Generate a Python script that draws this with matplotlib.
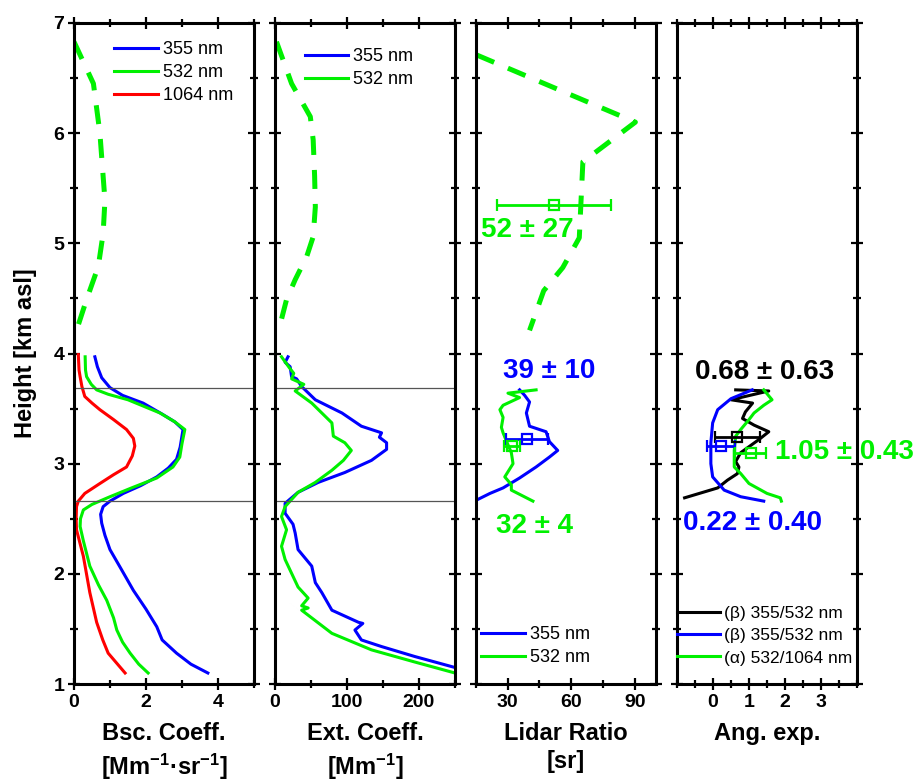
import matplotlib
matplotlib.use("Agg")
import matplotlib.pyplot as plt
from matplotlib.ticker import MultipleLocator, FixedLocator

plt.rcParams['font.family'] = ['Liberation Sans', 'DejaVu Sans']
plt.rcParams['mathtext.fontset'] = 'custom'
plt.rcParams['mathtext.rm'] = 'Liberation Sans:bold'
plt.rcParams['mathtext.default'] = 'rm'

BLUE = '#0000ff'
GREEN = '#00f000'
RED = '#ff0000'

# ---------------- data ----------------
# Backscatter coefficient [Mm-1 sr-1]
bsc532_dash_h = [6.83, 6.45, 6.00, 5.39, 5.09, 4.79, 4.49, 4.21]
bsc532_dash_v = [0.00, 0.54, 0.72, 0.86, 0.81, 0.675, 0.35, 0.07]

bsc355_h = [3.97, 3.88, 3.78, 3.69, 3.62, 3.55, 3.45, 3.38, 3.31, 3.15, 3.04, 2.96, 2.88, 2.80, 2.73, 2.66, 2.61, 2.54, 2.46, 2.35, 2.22, 2.05, 1.85, 1.68, 1.52, 1.40, 1.28, 1.18, 1.10]
bsc355_v = [0.58, 0.65, 0.77, 1.00, 1.35, 1.92, 2.45, 2.80, 3.03, 2.95, 2.85, 2.62, 2.30, 1.85, 1.37, 1.00, 0.81, 0.74, 0.77, 0.86, 1.00, 1.30, 1.65, 2.00, 2.30, 2.45, 2.85, 3.25, 3.72]

bsc532_h = [3.97, 3.85, 3.79, 3.72, 3.67, 3.63, 3.58, 3.46, 3.38, 3.31, 3.18, 3.06, 2.97, 2.87, 2.78, 2.70, 2.63, 2.58, 2.50, 2.43, 2.30, 2.07, 1.90, 1.76, 1.60, 1.49, 1.38, 1.28, 1.18, 1.10]
bsc532_v = [0.31, 0.32, 0.35, 0.48, 0.63, 0.95, 1.50, 2.39, 2.80, 3.08, 3.00, 2.94, 2.75, 2.30, 1.60, 1.00, 0.50, 0.26, 0.18, 0.17, 0.26, 0.44, 0.68, 0.91, 1.10, 1.19, 1.35, 1.56, 1.80, 2.06]

bsc1064_h = [3.99, 3.85, 3.79, 3.70, 3.61, 3.55, 3.49, 3.40, 3.31, 3.23, 3.16, 3.07, 2.97, 2.90, 2.82, 2.73, 2.66, 2.61, 2.50, 2.40, 2.16, 1.83, 1.56, 1.40, 1.28, 1.10]
bsc1064_v = [0.12, 0.14, 0.17, 0.22, 0.30, 0.50, 0.72, 1.10, 1.46, 1.65, 1.69, 1.62, 1.46, 1.10, 0.72, 0.30, 0.12, 0.07, 0.06, 0.07, 0.26, 0.44, 0.63, 0.80, 0.95, 1.42]

# Extinction coefficient [Mm-1]
ext532_dash_h = [6.83, 6.45, 6.15, 5.94, 5.61, 5.33, 5.06, 4.88, 4.67, 4.49, 4.21]
ext532_dash_v = [2, 23, 49, 53, 55, 56, 53, 44, 28, 16, 5]

ext355_h = [3.97, 3.92, 3.88, 3.79, 3.77, 3.70, 3.58, 3.46, 3.34, 3.28, 3.24, 3.19, 3.13, 3.03, 2.92, 2.83, 2.74, 2.64, 2.55, 2.45, 2.37, 2.22, 2.07, 1.92, 1.83, 1.67, 1.56, 1.55, 1.49, 1.40, 1.34, 1.25, 1.15]
ext355_v = [18, 14, 21, 23, 30, 37, 56, 93, 120, 148, 145, 155, 155, 134, 97, 60, 32, 14, 14, 25, 28, 32, 51, 56, 65, 79, 116, 122, 111, 120, 148, 194, 250]

ext532_h = [3.97, 3.87, 3.82, 3.77, 3.72, 3.66, 3.55, 3.37, 3.25, 3.19, 3.12, 3.03, 2.94, 2.83, 2.74, 2.61, 2.52, 2.40, 2.25, 2.13, 1.88, 1.78, 1.71, 1.69, 1.67, 1.60, 1.46, 1.31, 1.20, 1.10]
ext532_v = [9, 20, 26, 23, 40, 28, 51, 79, 81, 97, 106, 95, 79, 56, 32, 14, 9, 16, 9, 14, 32, 46, 37, 46, 37, 51, 79, 134, 194, 250]

# Lidar ratio [sr]
lr532_dash_h = [6.71, 6.10, 5.74, 5.05, 4.78, 4.57, 4.21]
lr532_dash_v = [15.3, 90.3, 65.5, 63.8, 56.0, 47.0, 40.3]

lr355_h = [3.67, 3.62, 3.56, 3.46, 3.34, 3.29, 3.20, 3.12, 3.06, 2.97, 2.87, 2.78, 2.73, 2.67]
lr355_v = [35.6, 38.0, 40.3, 38.8, 40.3, 48.1, 49.7, 53.6, 49.7, 43.4, 35.6, 27.8, 21.6, 15.3]

lr532_h = [3.67, 3.64, 3.60, 3.53, 3.49, 3.42, 3.33, 3.28, 3.20, 3.10, 3.00, 2.88, 2.81, 2.76, 2.66]
lr532_v = [43.4, 30.1, 35.6, 27.8, 26.3, 27.8, 27.0, 27.8, 29.5, 31.7, 32.5, 28.6, 31.7, 31.7, 41.9]

# Angstrom exponents
ae_bsc_k_h = [3.67, 3.66, 3.58, 3.55, 3.47, 3.41, 3.35, 3.29, 3.22, 3.10, 3.02, 2.97, 2.91, 2.85, 2.78, 2.69]
ae_bsc_k_v = [0.63, 1.55, 0.50, 1.10, 0.90, 0.82, 1.14, 1.55, 1.28, 0.77, 0.63, 0.72, 0.68, 0.40, 0.13, -0.79]

ae_bsc_b_h = [3.67, 3.59, 3.49, 3.37, 3.19, 3.00, 2.88, 2.76, 2.70, 2.66]
ae_bsc_b_v = [1.09, 0.50, 0.13, -0.01, -0.06, -0.06, -0.01, 0.31, 0.77, 1.41]

ae_ext_g_h = [3.67, 3.58, 3.53, 3.46, 3.40, 3.31, 3.25, 3.12, 2.97, 2.91, 2.82, 2.73, 2.69, 2.66]
ae_ext_g_v = [1.41, 1.64, 1.41, 1.14, 1.00, 0.77, 0.63, 0.59, 0.59, 0.77, 1.00, 1.50, 1.87, 1.90]

# layer mean values (value, error, height)
lr_means = [(52, 27, 5.35, GREEN), (39, 10, 3.22, BLUE), (32, 4, 3.16, GREEN)]
ae_means = [(0.68, 0.63, 3.24, 'black'), (0.22, 0.40, 3.16, BLUE), (1.05, 0.43, 3.10, GREEN)]

layer_bounds = [3.69, 2.66]

# ---------------- figure ----------------
fig = plt.figure(figsize=(9.18, 7.82), dpi=100)
left = [0.0806, 0.2996, 0.5185, 0.7375]
bottom, width, height = 0.1253, 0.196, 0.8453
axes = [fig.add_axes([l, bottom, width, height]) for l in left]

LW = 2.2
DASH = dict(lw=3.6, dashes=(3.8, 3.0), color=GREEN)
LEG = dict(frameon=False, fontsize=13, handlelength=2.4, handletextpad=0.3,
           labelspacing=0.33, borderpad=0, borderaxespad=0)

def style(ax, xlim, labeled, minor, xlabel, ylabels=False):
    ax.set_ylim(1, 7)
    ax.set_xlim(*xlim)
    ax.xaxis.set_major_locator(FixedLocator(labeled))
    ax.xaxis.set_minor_locator(MultipleLocator(minor))
    ax.yaxis.set_major_locator(MultipleLocator(1))
    ax.yaxis.set_minor_locator(MultipleLocator(0.5))
    ax.tick_params(which='both', direction='inout', top=True, right=True, width=1.6)
    ax.tick_params(which='major', length=8)
    ax.tick_params(which='minor', length=6)
    ax.tick_params(axis='both', labelsize=14, pad=3)
    for lab in ax.get_xticklabels() + ax.get_yticklabels():
        lab.set_fontweight('bold')
    if not ylabels:
        ax.set_yticklabels([])
    for s in ax.spines.values():
        s.set_linewidth(2.2)
    ax.set_xlabel(xlabel, fontsize=17, fontweight='bold', labelpad=8, linespacing=1.3)

# Panel 1: backscatter
ax = axes[0]
ax.plot(bsc532_dash_v, bsc532_dash_h, **DASH)
ax.plot(bsc355_v, bsc355_h, color=BLUE, lw=LW, label='355 nm')
ax.plot(bsc532_v, bsc532_h, color=GREEN, lw=LW, label='532 nm')
ax.plot(bsc1064_v, bsc1064_h, color=RED, lw=LW, label='1064 nm')
for hb in layer_bounds:
    ax.axhline(hb, color='#555555', lw=0.9)
style(ax, (0, 5), [0, 2, 4], 1, 'Bsc. Coeff.\n[Mm$^{-1}$·sr$^{-1}$]', ylabels=True)
ax.set_ylabel('Height [km asl]', fontsize=17, fontweight='bold', labelpad=12)
ax.legend(loc='upper left', bbox_to_anchor=(0.225, 0.972), **LEG)

# Panel 2: extinction
ax = axes[1]
ax.plot(ext532_dash_v, ext532_dash_h, **DASH)
ax.plot(ext355_v, ext355_h, color=BLUE, lw=LW, label='355 nm')
ax.plot(ext532_v, ext532_h, color=GREEN, lw=LW, label='532 nm')
for hb in layer_bounds:
    ax.axhline(hb, color='#555555', lw=0.9)
style(ax, (0, 250), [0, 100, 200], 50, 'Ext. Coeff.\n[Mm$^{-1}$]')
ax.legend(loc='upper left', bbox_to_anchor=(0.165, 0.962), **LEG)

# Panel 3: lidar ratio
ax = axes[2]
ax.plot(lr532_dash_v, lr532_dash_h, **DASH)
ax.plot(lr355_v, lr355_h, color=BLUE, lw=LW, label='355 nm')
ax.plot(lr532_v, lr532_h, color=GREEN, lw=LW, label='532 nm')
for val, err, hh, c in lr_means:
    ax.errorbar([val], [hh], xerr=[err], fmt='s', mfc='none', mec=c, ms=7, mew=1.6,
                ecolor=c, elinewidth=2.0, capsize=4, capthick=2.0)
ax.text(17.5, 5.12, '52 ± 27', color=GREEN, fontsize=20, fontweight='bold', va='center', ha='left')
ax.text(27.7, 3.84, '39 ± 10', color=BLUE, fontsize=20, fontweight='bold', va='center', ha='left')
ax.text(24.5, 2.43, '32 ± 4', color=GREEN, fontsize=20, fontweight='bold', va='center', ha='left')
style(ax, (15, 100), [30, 60, 90], 15, 'Lidar Ratio\n[sr]')
ax.legend(loc='lower left', bbox_to_anchor=(0.03, 0.027), **LEG)

# Panel 4: Angstrom exponent
ax = axes[3]
ax.plot(ae_bsc_k_v, ae_bsc_k_h, color='black', lw=LW, label='(β) 355/532 nm')
ax.plot(ae_bsc_b_v, ae_bsc_b_h, color=BLUE, lw=LW, label='(β) 355/532 nm')
ax.plot(ae_ext_g_v, ae_ext_g_h, color=GREEN, lw=LW, label='(α) 532/1064 nm')
for val, err, hh, c in ae_means:
    ax.errorbar([val], [hh], xerr=[err], fmt='s', mfc='none', mec=c, ms=7, mew=1.6,
                ecolor=c, elinewidth=2.0, capsize=4, capthick=2.0)
ax.text(1.43, 3.83, '0.68 ± 0.63', color='black', fontsize=20, fontweight='bold', va='center', ha='center')
ax.text(1.73, 3.11, '1.05 ± 0.43', color=GREEN, fontsize=20, fontweight='bold', va='center', ha='left', clip_on=False)
ax.text(-0.83, 2.46, '0.22 ± 0.40', color=BLUE, fontsize=20, fontweight='bold', va='center', ha='left')
style(ax, (-1, 4), [0, 1, 2, 3], 0.5, 'Ang. exp.\n ')
leg4 = dict(LEG)
leg4.update(fontsize=12.5, handletextpad=0.2, handlelength=2.5, labelspacing=0.4)
ax.legend(loc='lower left', bbox_to_anchor=(0.0, 0.028), **leg4)

fig.savefig('out.png', dpi=100)
